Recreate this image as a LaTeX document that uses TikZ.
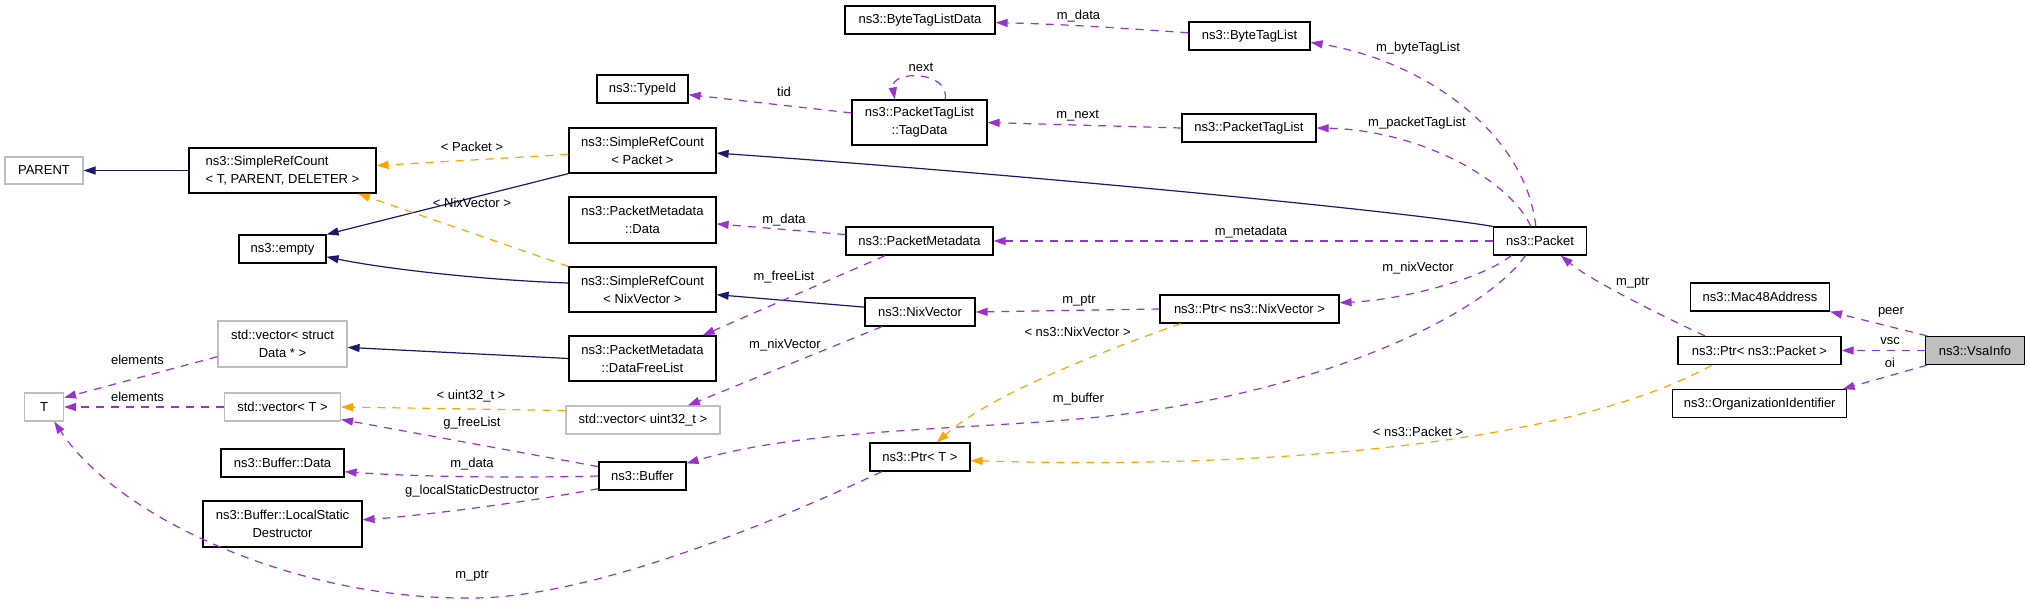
\documentclass[tikz,border=0pt]{standalone}
\usepackage{fontspec}
\setmainfont{Liberation Sans}
\usetikzlibrary{arrows.meta,calc}
\definecolor{dxpurple}{HTML}{9A32CD}
\definecolor{dxorange}{HTML}{FFA500}
\definecolor{dxblue}{HTML}{191970}
\definecolor{dxgray}{HTML}{BFBFBF}
\begin{document}
\begin{tikzpicture}[x=1pt,y=-1pt,
  box/.style={draw=black,line width=1.2pt,inner sep=0pt,align=center,fill=white,font=\fontsize{13}{18}\selectfont},
  gbox/.style={box,draw=dxgray},
  lbl/.style={inner sep=0pt,font=\fontsize{13}{15}\selectfont},
  tipA/.style={-{Triangle[length=12pt,width=8pt]}},
  inh/.style={draw=dxblue,line width=1.2pt,tipA},
  tmpl/.style={draw=dxorange,line width=1.2pt,dash pattern=on 8pt off 7pt,tipA},
  uses/.style={draw=dxpurple,line width=1.2pt,dash pattern=on 8pt off 7pt,tipA}
]
\fill[white] (0,0) rectangle (2027,603);
\useasboundingbox (0,0) rectangle (2027,603);

% nodes
\node[gbox,minimum width=78pt,minimum height=27pt] (parent) at (44,170.5) {PARENT};
\node[box,minimum width=187pt,minimum height=45pt,align=left] (srcT) at (282.5,170.5) {ns3::SimpleRefCount\\< T, PARENT, DELETER >};
\node[box,minimum width=87pt,minimum height=28pt] (empty) at (282.5,249) {ns3::empty};
\node[box,minimum width=91pt,minimum height=28pt] (typeid) at (642.5,89) {ns3::TypeId};
\node[box,minimum width=147pt,minimum height=45pt] (srcP) at (642.5,150.5) {ns3::SimpleRefCount\\< Packet >};
\node[box,minimum width=147pt,minimum height=46pt] (pmdata) at (642.5,220) {ns3::PacketMetadata\\::Data};
\node[box,minimum width=147pt,minimum height=45pt] (srcN) at (642.5,289.5) {ns3::SimpleRefCount\\< NixVector >};
\node[gbox,minimum width=129pt,minimum height=46pt] (vecD) at (282.5,344) {std::vector< struct\\Data * >};
\node[box,minimum width=147pt,minimum height=45pt] (freelist) at (642.5,358.5) {ns3::PacketMetadata\\::DataFreeList};
\node[gbox,minimum width=39pt,minimum height=28pt] (T) at (44,407) {T};
\node[gbox,minimum width=116pt,minimum height=28pt] (vecT) at (282.5,407) {std::vector< T >};
\node[gbox,minimum width=154pt,minimum height=28pt] (vecU) at (643,420) {std::vector< uint32\_t >};
\node[box,minimum width=123pt,minimum height=28pt] (bufdata) at (282.5,463) {ns3::Buffer::Data};
\node[box,minimum width=87pt,minimum height=28pt] (buffer) at (642.5,476) {ns3::Buffer};
\node[box,minimum width=159pt,minimum height=46pt] (lsd) at (282.5,524) {ns3::Buffer::LocalStatic\\Destructor};
\node[box,minimum width=150pt,minimum height=28pt] (btld) at (920,20) {ns3::ByteTagListData};
\node[box,minimum width=121pt,minimum height=28pt] (btl) at (1249.5,36) {ns3::ByteTagList};
\node[box,minimum width=135pt,minimum height=45pt] (tagdata) at (919.5,122.5) {ns3::PacketTagList\\::TagData};
\node[box,minimum width=134pt,minimum height=28pt] (ptl) at (1249,128) {ns3::PacketTagList};
\node[box,minimum width=147pt,minimum height=28pt] (pm) at (919.5,241) {ns3::PacketMetadata};
\node[box,minimum width=110pt,minimum height=28pt] (nix) at (920,312) {ns3::NixVector};
\node[box,minimum width=179pt,minimum height=28pt] (ptrN) at (1249.5,309) {ns3::Ptr< ns3::NixVector >};
\node[box,minimum width=100pt,minimum height=28pt] (ptrT) at (920,457) {ns3::Ptr< T >};
\node[box,minimum width=93pt,minimum height=28pt] (packet) at (1540,241) {ns3::Packet};
\node[box,minimum width=139pt,minimum height=28pt] (mac) at (1760,297) {ns3::Mac48Address};
\node[box,minimum width=163pt,minimum height=28pt] (ptrP) at (1759.5,350.5) {ns3::Ptr< ns3::Packet >};
\node[box,fill=dxgray,minimum width=99pt,minimum height=28pt] (vsa) at (1975,350.5) {ns3::VsaInfo};
\node[box,minimum width=174pt,minimum height=28pt] (orgid) at (1759.7,403.7) {ns3::OrganizationIdentifier};

\coordinate (mptrlow) at (472,598);
\coordinate (mbufmid) at (1078,419);

% inheritance (blue)
\draw[inh] (srcT.west) -- (parent.east);
\draw[inh] (srcP.south west) -- (empty.north east);
\draw[inh] (srcN.175) .. controls (480,280) and (380,268) .. (empty.-10.4);
\draw[inh] (freelist.west) -- (vecD.-3);
\draw[inh] (nix.175) -- (srcN.-4);
\draw[inh] (packet.north west) .. controls (1394,210) and (1016,174) .. (srcP.-2);

% template instantiation (orange)
\draw[tmpl] (srcP.183.5) -- (srcT.3.4);
\draw[tmpl] (srcN.north west) -- (srcT.-17.7);
\draw[tmpl] (vecU.173) -- (vecT.east);
\draw[tmpl] (ptrN.192.4) .. controls (1100,352) and (990,395) .. (ptrT.41);
\draw[tmpl] (ptrP.197.1) .. controls (1550,455) and (1200,468) .. (ptrT.-4.6);

% usage (purple)
\draw[uses] (vecD.191.4) -- (T.25);
\draw[uses] (vecT.west) -- (T.east);
\draw[uses] (buffer.168.3) -- (vecT.-12.6);
\draw[uses] (buffer.west) .. controls (520,478) and (420,477) .. (bufdata.-8.3);
\draw[uses] (buffer.196.6) .. controls (540,500) and (430,515) .. (lsd.3.6);
\draw[uses] (ptrT.201.25) .. controls (800,510) and (600,598) .. (mptrlow) .. controls (300,600) and (120,520) .. (T.-55.6);
\draw[uses] (pm.175.3) -- (pmdata.-3.9);
\draw[uses] (pm.203) -- (freelist.21.7);
\draw[uses] (nix.201.25) -- (vecU.18.2);
\draw[uses] (tagdata.172.8) -- (typeid.-7.5);
\draw[uses] (tagdata.42) .. controls (950,70) and (890,70) .. (tagdata.137);
\draw[uses] (ptl.west) -- (tagdata.east);
\draw[uses] (btl.177) .. controls (1120,28) and (1060,24) .. (btld.-2.3);
\draw[uses] (packet.106) .. controls (1525,130) and (1420,60) .. (btl.-6.6);
\draw[uses] (packet.122.7) .. controls (1510,180) and (1420,130) .. (ptl.east);
\draw[uses] (packet.west) -- (pm.east);
\draw[uses] (packet.207.4) .. controls (1480,280) and (1400,300) .. (ptrN.4.5);
\draw[uses] (packet.225) .. controls (1480,320) and (1300,400) .. (mbufmid) .. controls (950,430) and (800,430) .. (buffer.16.7);
\draw[uses] (ptrN.west) -- (nix.east);
\draw[uses] (ptrP.165.4) .. controls (1660,315) and (1590,280) .. (packet.-35);
\draw[uses] (vsa.163) -- (mac.south east);
\draw[uses] (vsa.west) -- (ptrP.east);
\draw[uses] (vsa.197) -- (orgid.10.9);

% labels
\node[lbl] (Lpkt) at (472,147) {< Packet >};
\node[lbl] (Lnixv) at (472,203) {< NixVector >};
\node[lbl] (Lel1) at (137.5,360) {elements};
\node[lbl] (Lel2) at (137.5,397) {elements};
\node[lbl] (Lu32) at (471,396) {< uint32\_t >};
\node[lbl] (Lgfl) at (472,423) {g\_freeList};
\node[lbl] (Lbd) at (472,464) {m\_data};
\node[lbl] (Lglsd) at (472,491) {g\_localStaticDestructor};
\node[lbl] (Lmptr1) at (472,576) {m\_ptr};
\node[lbl] (Lbtd) at (1078.5,16) {m\_data};
\node[lbl] (Lnext) at (921,67) {next};
\node[lbl] (Ltid) at (784,92) {tid};
\node[lbl] (Lmnext) at (1077.6,116) {m\_next};
\node[lbl] (Lpmd) at (784,220) {m\_data};
\node[lbl] (Lmeta) at (1251,232) {m\_metadata};
\node[lbl] (Lfree) at (784,277) {m\_freeList};
\node[lbl] (Lmptr2) at (1079,301) {m\_ptr};
\node[lbl] (Lnixt) at (1077.6,332) {< ns3::NixVector >};
\node[lbl] (Lnix1) at (785,345) {m\_nixVector};
\node[lbl] (Lbuf) at (1078.5,399) {m\_buffer};
\node[lbl] (Lbtl) at (1418,48) {m\_byteTagList};
\node[lbl] (Lptl) at (1417,123) {m\_packetTagList};
\node[lbl] (Lnix2) at (1418,268) {m\_nixVector};
\node[lbl] (Lmptr3) at (1632.7,283) {m\_ptr};
\node[lbl] (Lpeer) at (1891,312) {peer};
\node[lbl] (Lvsc) at (1890,341) {vsc};
\node[lbl] (Loi) at (1890,363) {oi};
\node[lbl] (Lpt) at (1418,432) {< ns3::Packet >};
\end{tikzpicture}
\end{document}
